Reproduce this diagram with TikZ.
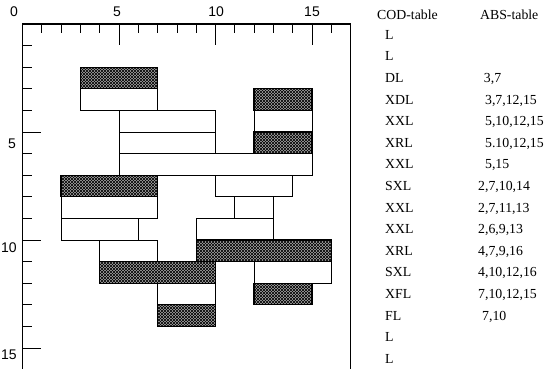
\documentclass[tikz,border=0pt]{standalone}
\usepackage{fontspec}
\setmainfont{Liberation Serif}
\newfontfamily\axisfont{Liberation Sans}
\usetikzlibrary{patterns}
\begin{document}
\begin{tikzpicture}[x=19.3pt,y=-21.6pt,
  wbox/.style={draw=black, line width=0.9pt, fill=white},
  hbox/.style={draw=black, line width=1.3pt, fill=black!35,
    postaction={pattern=north east lines, pattern color=black},
    postaction={pattern=north west lines, pattern color=black},
    postaction={draw=black, line width=1.3pt}},
  frameline/.style={line width=1.1pt},
  tickline/.style={line width=0.8pt},
  axlab/.style={inner sep=0pt, font=\axisfont\fontsize{14}{14}\selectfont},
  tab/.style={anchor=base west, inner sep=0pt, font=\fontsize{13.8}{16}\selectfont}]
\useasboundingbox (-22.5pt,24pt) rectangle (521.5pt,-344pt);
% frame
\draw[frameline] (0,15.95) -- (0,0) -- (17,0) -- (17,15.95);
% x ticks
\foreach \i in {1,2,3,4,6,7,8,9,11,12,13,14,16} \draw[tickline] (\i,0) -- (\i,0.42);
\foreach \i in {5,10,15} \draw[tickline] (\i,0) -- (\i,0.97);
% y ticks
\foreach \j in {1,2,3,4,6,7,8,9,11,12,13,14} \draw[tickline] (0,\j) -- (0.5,\j);
\foreach \j in {5,10,15} \draw[tickline] (0,\j) -- (0.98,\j);
% axis labels
\node[axlab] (x0) at (-0.44,-0.56) {0};
\node[axlab] (x5) at (4.9,-0.56) {5};
\node[axlab] (x10) at (10.03,-0.56) {10};
\node[axlab] (x15) at (15.0,-0.56) {15};
\node[axlab] (y5) at (-0.54,5.56) {5};
\node[axlab] (y10) at (-0.7,10.37) {10};
\node[axlab] (y15) at (-0.7,15.32) {15};
% white boxes
\draw[wbox] (3,3) rectangle (7,4);
\draw[wbox] (5,4) rectangle (10,5);
\draw[wbox] (12,4) rectangle (15,5);
\draw[wbox] (5,5) rectangle (10,6);
\draw[wbox] (5,6) rectangle (15,7);
\draw[wbox] (10,7) rectangle (14,8);
\draw[wbox] (2,8) rectangle (7,9);
\draw[wbox] (11,8) rectangle (13,9);
\draw[wbox] (2,9) rectangle (6,10);
\draw[wbox] (9,9) rectangle (13,10);
\draw[wbox] (4,10) rectangle (7,11);
\draw[wbox] (12,11) rectangle (16,12);
\draw[wbox] (7,12) rectangle (10,13);
% hatched boxes
\draw[hbox] (3,2) rectangle (7,3);
\draw[hbox] (12,3) rectangle (15,4);
\draw[hbox] (12,5) rectangle (15,6);
\draw[hbox] (2,7) rectangle (7,8);
\draw[hbox] (9,10) rectangle (16,11);
\draw[hbox] (4,11) rectangle (10,12);
\draw[hbox] (12,12) rectangle (15,13);
\draw[hbox] (7,13) rectangle (10,14);
% table
\node[tab] (codh) at (18.37,-0.20) {COD-table};
\node[tab] (absh) at (23.70,-0.20) {ABS-table};
\node[tab] (c1) at (18.78,0.71) {L};
\node[tab] (c2) at (18.78,1.71) {L};
\node[tab] (c3) at (18.78,2.71) {DL};
\node[tab] (c4) at (18.78,3.71) {XDL};
\node[tab] (c5) at (18.78,4.71) {XXL};
\node[tab] (c6) at (18.78,5.71) {XRL};
\node[tab] (c7) at (18.78,6.71) {XXL};
\node[tab] (c8) at (18.78,7.71) {SXL};
\node[tab] (c9) at (18.78,8.71) {XXL};
\node[tab] (c10) at (18.78,9.71) {XXL};
\node[tab] (c11) at (18.78,10.71) {XRL};
\node[tab] (c12) at (18.78,11.71) {SXL};
\node[tab] (c13) at (18.78,12.71) {XFL};
\node[tab] (c14) at (18.78,13.71) {FL};
\node[tab] (c15) at (18.78,14.71) {L};
\node[tab] (c16) at (18.78,15.71) {L};
\node[tab] (a3) at (23.90,2.71) {3,7};
\node[tab] (a4) at (23.96,3.71) {3,7,12,15};
\node[tab] (a5) at (23.96,4.71) {5,10,12,15};
\node[tab] (a6) at (23.96,5.71) {5.10,12,15};
\node[tab] (a7) at (23.96,6.71) {5,15};
\node[tab] (a8) at (23.60,7.71) {2,7,10,14};
\node[tab] (a9) at (23.60,8.71) {2,7,11,13};
\node[tab] (a10) at (23.60,9.71) {2,6,9,13};
\node[tab] (a11) at (23.60,10.71) {4,7,9,16};
\node[tab] (a12) at (23.60,11.71) {4,10,12,16};
\node[tab] (a13) at (23.60,12.71) {7,10,12,15};
\node[tab] (a14) at (23.81,13.71) {7,10};
\end{tikzpicture}
\end{document}
